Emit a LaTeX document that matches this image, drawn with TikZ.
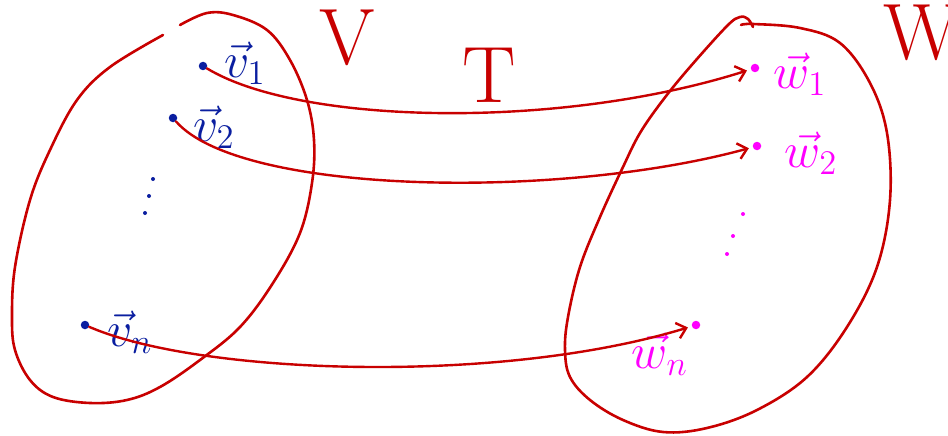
\documentclass[tikz,border=0pt]{standalone}
\usetikzlibrary{arrows.meta}
\definecolor{hred}{RGB}{200,0,0}
\definecolor{hblue}{RGB}{10,30,160}
\definecolor{hmag}{RGB}{255,0,255}
\begin{document}
\begin{tikzpicture}[x=1pt,y=-1pt,
  outline/.style={draw=hred,line width=2.6pt,line cap=round,line join=round},
  maparrow/.style={draw=hred,line width=2.4pt,line cap=round,-{Straight Barb[length=9pt,width=16pt,line width=2.4pt]}},
  vdot/.style={circle,fill=hblue,inner sep=0pt,minimum size=8.5pt},
  wdot/.style={circle,fill=hmag,inner sep=0pt,minimum size=8.5pt},
  sdotv/.style={circle,fill=hblue,inner sep=0pt,minimum size=4pt},
  sdotw/.style={circle,fill=hmag,inner sep=0pt,minimum size=4pt},
  vlab/.style={text=hblue,font=\fontsize{20}{20}\selectfont,inner sep=0pt,scale=2.4,transform shape},
  wlab/.style={text=hmag,font=\fontsize{20}{20}\selectfont,inner sep=0pt,scale=2.4,transform shape},
  spacelab/.style={text=hred,font=\fontsize{80}{80}\selectfont,inner sep=0pt}]
\useasboundingbox[fill=white] (0,0) rectangle (948,436);
% blob V
\draw[outline] plot[smooth,tension=0.6] coordinates {(163,35) (110,67) (77,100) (50,150) (30,200) (15,267) (12,317) (15,350) (30,380) (53,397) (90,403) (127,400) (160,387) (200,360) (240,327) (273,283) (300,233) (312,183) (314,140) (307,100) (290,60) (267,30) (233,15) (207,13) (180,25)};
% blob W
\draw[outline] plot[smooth,tension=0.6] coordinates {(753,27) (748,19) (740,17) (727,26) (690,67) (663,100) (640,133) (623,167) (600,217) (580,267) (568,317) (565,350) (570,377) (590,400) (623,420) (663,432) (707,428) (757,410) (807,377) (847,327) (877,267) (890,200) (887,133) (870,83) (840,43) (800,28) (753,24) (741,25)};
% space labels
\node[spacelab] (V) at (347,38) {V};
\node[spacelab] (T) at (489,75) {T};
\node[spacelab] (W) at (922,33) {W};
% vectors in V
\node[vdot] (v1) at (203,66) {};
\node[vdot] (v2) at (173,118) {};
\node[vdot] (vn) at (85,325) {};
\node[vlab] (lv1) at (245,63) {$\vec{v}_1$};
\node[vlab] (lv2) at (214,127) {$\vec{v}_2$};
\node[vlab] (lvn) at (130,332) {$\vec{v}_n$};
\node[sdotv] (a1) at (153,179) {};
\node[sdotv] (a2) at (149,196) {};
\node[sdotv] (a3) at (145,213) {};
% vectors in W
\node[wdot] (w1) at (755,68) {};
\node[wdot] (w2) at (757,146) {};
\node[wdot] (wn) at (696,325) {};
\node[wlab] (lw1) at (800,74) {$\vec{w}_1$};
\node[wlab] (lw2) at (811,153) {$\vec{w}_2$};
\node[wlab] (lwn) at (660,354) {$\vec{w}_n$};
\node[sdotw] (b1) at (743,214) {};
\node[sdotw] (b2) at (733,236) {};
\node[sdotw] (b3) at (727,254) {};
% mapping arrows
\draw[maparrow,shorten >=4pt] (v1) .. controls (300,125) and (560,130) .. (w1);
\draw[maparrow,shorten >=4pt] (v2) .. controls (240,195) and (560,200) .. (w2);
\draw[maparrow,shorten >=4pt] (vn) .. controls (200,375) and (500,385) .. (wn);
\end{tikzpicture}
\end{document}
